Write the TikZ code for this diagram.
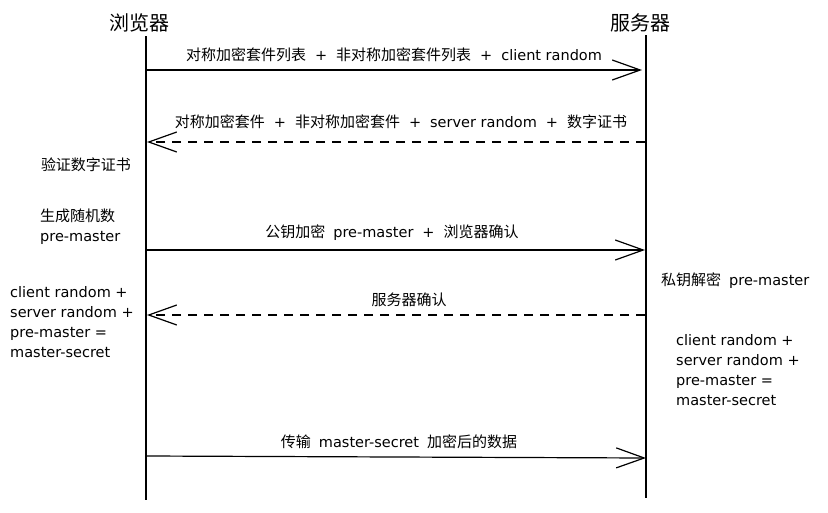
\documentclass[tikz,border=0pt]{standalone}
\usepackage{fontspec}
\setmainfont{DejaVu Sans}
\newfontfamily\cjkf{Noto Sans CJK SC}
\newcommand{\zh}[1]{{\cjkf\fontsize{15}{20}\selectfont #1}}
\newcommand{\pl}{\hspace{9pt}+\hspace{9pt}}
\newcommand{\gp}{\hspace{8pt}}
\usetikzlibrary{arrows.meta}
\begin{document}
\begin{tikzpicture}[x=1pt,y=-1pt,
  lifeline/.style={line width=1.3pt,black},
  msg/.style={line width=1.2pt,black,-{Straight Barb[length=28pt,width=20pt,line width=1.2pt]}},
  reply/.style={msg,dash pattern=on 9pt off 7pt},
  lbl/.style={font=\fontsize{14.5}{16}\selectfont,inner sep=0pt,anchor=center},
  note/.style={font=\fontsize{14.5}{20}\selectfont,inner sep=0pt,align=left},
  title/.style={font=\cjkf\fontsize{20}{22}\selectfont,inner sep=0pt}]
\useasboundingbox (0,0) rectangle (828,512);
\fill[white] (0,0) rectangle (828,512);
% actors
\node[title] (B) at (139,23) {浏览器};
\node[title] (S) at (640,23) {服务器};
\coordinate (Bt) at (146,36);
\coordinate (Bb) at (146,500);
\coordinate (St) at (646,35);
\coordinate (Sb) at (646,498);
\draw[lifeline] (Bt) -- (Bb);
\draw[lifeline] (St) -- (Sb);
% message anchors
\coordinate (b1) at (147,70);  \coordinate (s1) at (642,70);
\coordinate (s2) at (645,142); \coordinate (b2) at (147,142);
\coordinate (b3) at (147,250); \coordinate (s3) at (645,250);
\coordinate (s4) at (645,315); \coordinate (b4) at (147,315);
\coordinate (b5) at (147,456); \coordinate (s5) at (646,458);
\draw[msg] (b1) -- (s1);
\draw[reply] (s2) -- (b2);
\draw[msg] (b3) -- (s3);
\draw[reply] (s4) -- (b4);
\draw[msg] (b5) -- (s5);
% labels
\node[lbl] (l1) at (394,55) {\zh{对称加密套件列表}\pl\zh{非对称加密套件列表}\pl client random};
\node[lbl] (l2) at (401,122) {\zh{对称加密套件}\pl\zh{非对称加密套件}\pl server random\pl\zh{数字证书}};
\node[lbl] (l3) at (392,233) {\zh{公钥加密}\gp pre-master\pl\zh{浏览器确认}};
\node[lbl] (l4) at (409,300) {\zh{服务器确认}};
\node[lbl] (l5) at (399,442) {\zh{传输}\gp master-secret\gp\zh{加密后的数据}};
% notes
\node[lbl] (n1) at (86,165) {\zh{验证数字证书}};
\node[note,anchor=north west] (n2) at (40,209) {\zh{生成随机数}\\pre-master};
\node[note,anchor=north west] (n3) at (10,286) {client random +\\server random +\\pre-master =\\master-secret};
\node[note,anchor=west] (n4) at (661,281) {\zh{私钥解密}\gp pre-master};
\node[note,anchor=north west] (n5) at (676,334) {client random +\\server random +\\pre-master =\\master-secret};
\end{tikzpicture}
\end{document}
